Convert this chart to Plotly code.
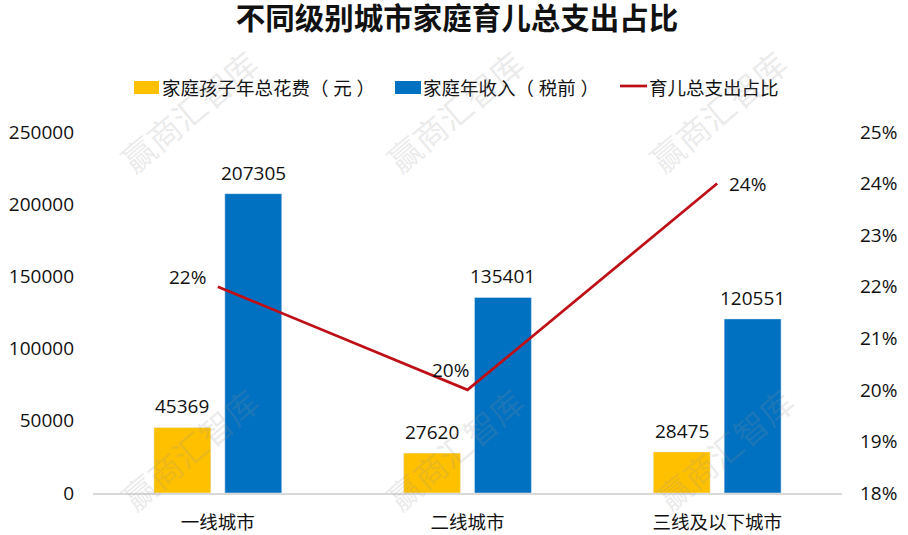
import plotly.graph_objects as go

# city tiers and the three series
cities = ['一线城市', '二线城市', '三线及以下城市']
child_cost = [45369, 27620, 28475]
family_income = [207305, 135401, 120551]
cost_share = [0.22, 0.20, 0.24]
share_labels = ['22%', '20%', '24%']

left_ticks = [0, 50000, 100000, 150000, 200000, 250000]
right_ticks = [0.18, 0.19, 0.20, 0.21, 0.22, 0.23, 0.24, 0.25]

cost_name = '家庭孩子年总花费（ 元 ）'
income_name = '家庭年收入（ 税前 ）'
share_name = '育儿总支出占比'

FONT = 'Open Sans, Noto Sans CJK SC, sans-serif'
WATERMARK = '赢商汇智库'
W, H = 908, 535
L, R, T, B = 93, 842, 132, 493


def paper_x(v):
    return (v - L) / (R - L)


def paper_y(v):
    return (B - v) / (B - T)


fig = go.Figure()

fig.add_trace(go.Bar(x=cities, y=child_cost, name=cost_name,
                     marker=dict(color='#FFC000'), width=0.228, offset=-0.256))
fig.add_trace(go.Bar(x=cities, y=family_income, name=income_name,
                     marker=dict(color='#0070C0'), width=0.228, offset=0.028))
fig.add_trace(go.Scatter(x=cities, y=cost_share, name=share_name, yaxis='y2',
                         mode='lines', line=dict(color='#BE0F17', width=2.7),
                         cliponaxis=False))

fig.update_layout(
    width=W, height=H,
    margin=dict(l=L, r=W - R, t=T, b=H - B),
    paper_bgcolor='white', plot_bgcolor='white',
    font=dict(family=FONT, size=19, color='#111111'),
    title=dict(text='<b>不同级别城市家庭育儿总支出占比</b>', x=457 / W, xanchor='center',
               y=1 - 19 / H, yanchor='middle', font=dict(size=29.5, color='#111111')),
    showlegend=False,
    xaxis=dict(showline=True, linecolor='#D9D9D9', linewidth=1.5, ticks='', automargin=False,
               showgrid=False, zeroline=False, ticklabelstandoff=12, tickfont=dict(size=18.5)),
    yaxis=dict(range=[0, 250000], tickvals=left_ticks, tickformat='d', showgrid=False,
               zeroline=False, showline=False, ticks='', ticklabelstandoff=18, automargin=False),
    yaxis2=dict(range=[0.18, 0.25], tickvals=right_ticks, tickformat='.0%', overlaying='y',
                side='right', showgrid=False, zeroline=False, showline=False, ticks='',
                ticklabelstandoff=17, automargin=False),
)

# bar labels sit a little higher than plotly's outside text would put them
for i in range(len(cities)):
    fig.add_annotation(x=i - 0.142, y=child_cost[i], text=str(child_cost[i]), showarrow=False,
                       yanchor='bottom', yshift=6)
    fig.add_annotation(x=i + 0.142, y=family_income[i], text=str(family_income[i]),
                       showarrow=False, yanchor='bottom', yshift=6)

# share labels beside the line points
for i, (ax, ay) in enumerate([(-30, -10), (-17, -20), (30, 0)]):
    fig.add_annotation(x=i, y=cost_share[i], yref='y2', text=share_labels[i], showarrow=False,
                       xshift=ax, yshift=-ay, xanchor='center', yanchor='middle')

# legend drawn by hand: the swatches are wider than plotly's bar swatch
for x0, x1, color, label, text_x in [(134, 159, '#FFC000', cost_name, 160),
                                     (395, 421, '#0070C0', income_name, 421)]:
    fig.add_shape(type='rect', xref='paper', yref='paper', x0=paper_x(x0), x1=paper_x(x1),
                  y0=paper_y(94), y1=paper_y(81), fillcolor=color, line_width=0)
    fig.add_annotation(text=label, xref='paper', yref='paper', x=paper_x(text_x), y=paper_y(87),
                       xanchor='left', yanchor='middle', showarrow=False, font=dict(size=18.5))
fig.add_shape(type='line', xref='paper', yref='paper', x0=paper_x(620), x1=paper_x(647),
              y0=paper_y(86), y1=paper_y(86), line=dict(color='#BE0F17', width=2.7))
fig.add_annotation(text=share_name, xref='paper', yref='paper', x=paper_x(647), y=paper_y(87),
                   xanchor='left', yanchor='middle', showarrow=False, font=dict(size=18.5))

# faint diagonal watermarks, top and bottom rows
for wx, wy in [(189, 112), (455, 112), (718, 112), (190, 450), (455, 450), (725, 450)]:
    fig.add_annotation(text=WATERMARK, xref='paper', yref='paper', x=paper_x(wx), y=paper_y(wy),
                       xanchor='center', yanchor='middle', showarrow=False, textangle=-40,
                       font=dict(size=33, color='rgba(150,150,150,0.2)'))

fig.write_html('out.html', config={'displayModeBar': False},
               post_script="document.body.style.margin='0';window.dispatchEvent(new Event('resize'));")
